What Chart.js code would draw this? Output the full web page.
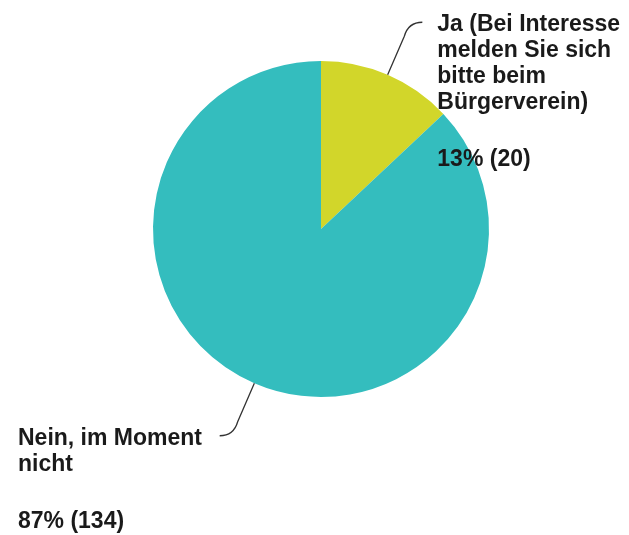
<!DOCTYPE html>
<html>
<head>
<meta charset="utf-8">
<script src="https://cdn.jsdelivr.net/npm/chart.js@4"></script>
<style>
  html, body { margin: 0; padding: 0; background: #fff; }
  #wrap { width: 629px; height: 535px; }
</style>
</head>
<body>
<div id="wrap"><canvas id="pieChart"></canvas></div>
<script>
const labels = [
    ['Ja (Bei Interesse', 'melden Sie sich', 'bitte beim', 'Bürgerverein)'],
    ['Nein, im Moment', 'nicht']
];
const counts = [20, 134];
const colors = ['rgb(210, 214, 42)', 'rgb(52, 189, 190)'];

const total = counts.reduce((a, b) => a + b, 0);

// labels with curved leader lines
const calloutPlugin = {
    id: 'callouts',
    afterDatasetsDraw(chart) {
        const ctx = chart.ctx;
        const arcs = chart.getDatasetMeta(0).data;
        ctx.save();
        ctx.font = 'bold 23px Arial, "Liberation Sans", sans-serif';
        ctx.fillStyle = '#1a1a1a';
        ctx.strokeStyle = '#333';
        ctx.lineWidth = 1.3;
        arcs.forEach((arc, i) => {
            const mid = (arc.startAngle + arc.endAngle) / 2;
            const sx = arc.x + Math.cos(mid) * arc.outerRadius;
            const sy = arc.y + Math.sin(mid) * arc.outerRadius;
            const right = Math.cos(mid) >= 0;
            const up = Math.sin(mid) < 0;
            const dir = right ? 1 : -1;
            const vdir = up ? -1 : 1;
            // radial leg, then bend to horizontal
            const lx = sx + Math.cos(mid) * 42;
            const ly = sy + Math.sin(mid) * 42;
            const ex = lx + dir * 18;
            const ey = ly + vdir * 14;
            ctx.beginPath();
            ctx.moveTo(sx, sy);
            ctx.lineTo(lx, ly);
            ctx.quadraticCurveTo(lx + dir * 4, ey, ex, ey);
            ctx.stroke();

            const pct = Math.round(counts[i] / total * 100) + '% (' + counts[i] + ')';
            const lines = labels[i];
            const lh = 26;
            const tx = right ? ex + 15 : 18;
            const ty = ey + 9;
            ctx.textAlign = 'left';
            ctx.textBaseline = 'alphabetic';
            lines.forEach((ln, k) => ctx.fillText(ln, tx, ty + k * lh));
            ctx.fillText(pct, tx, ty + (lines.length - 1) * lh + 57);
        });
        ctx.restore();
    }
};

new Chart(document.getElementById('pieChart').getContext('2d'), {
    type: 'pie',
    data: {
        labels: labels.map(l => l.join(' ')),
        datasets: [{
            data: counts,
            backgroundColor: colors,
            borderWidth: 0
        }]
    },
    options: {
        responsive: true,
        maintainAspectRatio: false,
        animation: false,
        layout: {
            padding: { left: 153, right: 140, top: 61, bottom: 138 }
        },
        plugins: {
            legend: { display: false },
            tooltip: { enabled: false }
        }
    },
    plugins: [calloutPlugin]
});
</script>
</body>
</html>
